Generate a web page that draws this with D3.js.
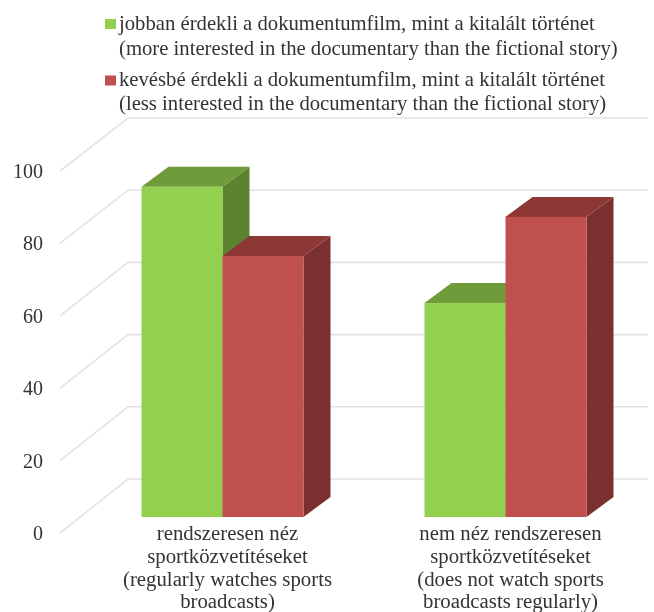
<!DOCTYPE html>
<html>
<head>
<meta charset="utf-8">
<script src="https://cdn.jsdelivr.net/npm/d3@7"></script>
<style>
html,body{margin:0;padding:0;background:#fff}
svg{display:block;filter:blur(0.5px)}
text{font-family:"Liberation Serif",serif;fill:#333}
</style>
</head>
<body>
<svg id="c" width="654" height="612"></svg>
<script>
const categories = ["rendszeresen néz","nem néz rendszeresen"];
const categoryLabels = [
  ["rendszeresen néz","sportközvetítéseket","(regularly watches sports","broadcasts)"],
  ["nem néz rendszeresen","sportközvetítéseket","(does not watch sports","broadcasts regularly)"]
];
const seriesNames = ["more","less"];
const moreValues = [91.2, 59.1];
const lessValues = [72.1, 82.9];
const ticks = [0,20,40,60,80,100];
const legendLines = [
  ["jobban érdekli a dokumentumfilm, mint a kitalált történet","(more interested in the documentary than the fictional story)"],
  ["kevésbé érdekli a dokumentumfilm, mint a kitalált történet","(less interested in the documentary than the fictional story)"]
];
const faceColors = [
  {front:"#92d050",top:"#6f9b3a",side:"#5c8430"},
  {front:"#c0504d",top:"#8e3836",side:"#7a302e"}
];
const legendColors = ["#92d050","#c0504d"];

const svg = d3.select("#c");
const yFront = d3.scaleLinear().domain([0,100]).range([533,171]);
const yWall  = d3.scaleLinear().domain([0,100]).range([479,118]);
const yBar   = d3.scaleLinear().domain([0,100]).range([517,155]);
const x0 = d3.scaleBand().domain(categories).range([81,647]).paddingInner(121/283).paddingOuter(60.5/283);
const x1 = d3.scaleBand().domain(seriesNames).range([0,x0.bandwidth()]);
const depthX = 27, depthY = -20;
const wallLeft = 128, wallRight = 648, frontLeft = 60;

// walls
const grid = svg.append("g").attr("fill","none").attr("stroke","#e3e3e3").attr("stroke-width",1.6);
grid.selectAll("path").data(ticks).join("path")
  .attr("d",t=>d3.line()([[frontLeft,yFront(t)],[wallLeft,yWall(t)],[wallRight,yWall(t)]]));

// axis
const axis = d3.axisLeft(yFront).tickValues(ticks).tickSize(0).tickPadding(0);
const ag = svg.append("g").attr("transform","translate(43,0)").call(axis);
ag.select(".domain").remove();
ag.selectAll("text").attr("font-size",20).style("font-family",'"Liberation Serif",serif').attr("fill","#333");

// bars
const seriesValues = [moreValues,lessValues];
categories.forEach((c,ci)=>{
  const g = svg.append("g");
  seriesNames.forEach((s,si)=>{
    const v = seriesValues[si][ci];
    const L = x0(c)+x1(s), R = L+x1.bandwidth(), T = yBar(v), B = yBar(0);
    const col = faceColors[si];
    const poly = pts=>d3.line()(pts)+"Z";
    g.append("path").attr("fill",col.side)
      .attr("d",poly([[R,T],[R+depthX,T+depthY],[R+depthX,B+depthY],[R,B]]));
    g.append("path").attr("fill",col.top)
      .attr("d",poly([[L,T],[L+depthX,T+depthY],[R+depthX,T+depthY],[R,T]]));
    g.append("rect").attr("fill",col.front)
      .attr("x",L).attr("y",T).attr("width",R-L).attr("height",B-T);
  });
  const cx = x0(c)+x0.bandwidth()/2+5;
  const base = [540,563,586,607.5];
  categoryLabels[ci].forEach((line,i)=>{
    svg.append("text").attr("x",cx).attr("y",base[i]).attr("text-anchor","middle")
      .attr("font-size",20.8).text(line);
  });
});

// legend
const swatchY = [19,75.5];
const textY = [[30,55],[86,110]];
legendLines.forEach((lines,i)=>{
  svg.append("rect").attr("x",105).attr("y",swatchY[i]).attr("width",11).attr("height",10).attr("fill",legendColors[i]);
  lines.forEach((t,j)=>{
    svg.append("text").attr("x",119).attr("y",textY[i][j]).attr("font-size",20.7).text(t);
  });
});
</script>
</body>
</html>
